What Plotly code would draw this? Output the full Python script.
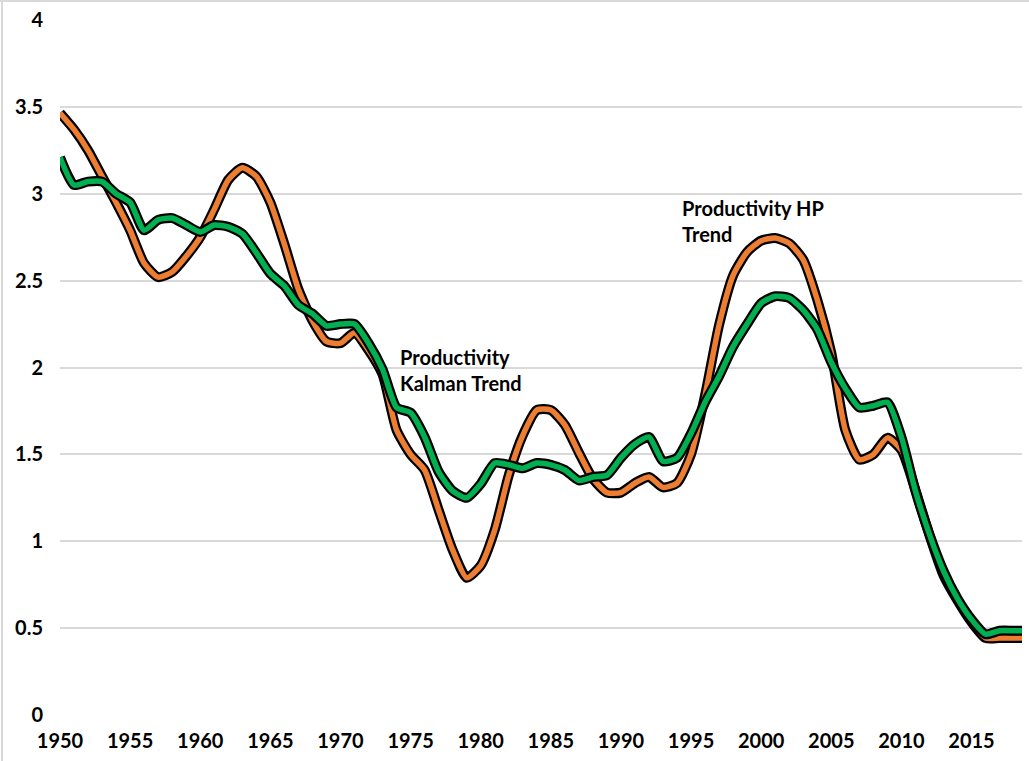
import plotly.graph_objects as go

years = list(range(1950, 2019)) + [2018.6]

hp_trend = [3.465, 3.37, 3.25, 3.10, 2.95, 2.79, 2.60, 2.52, 2.55, 2.64,
            2.75, 2.91, 3.08, 3.15, 3.10, 2.95, 2.71, 2.45, 2.27, 2.15,
            2.14, 2.20, 2.10, 1.96, 1.64, 1.50, 1.41, 1.18, 0.95, 0.79,
            0.86, 1.065, 1.38, 1.61, 1.755, 1.755, 1.67, 1.51, 1.36, 1.28,
            1.28, 1.335, 1.37, 1.31, 1.335, 1.50, 1.84, 2.245, 2.53, 2.665,
            2.73, 2.745, 2.715, 2.62, 2.39, 2.085, 1.64, 1.47, 1.50, 1.595,
            1.525, 1.295, 1.035, 0.805, 0.66, 0.535, 0.443, 0.443, 0.443, 0.443]

kalman_trend = [3.21, 3.05, 3.07, 3.07, 3.00, 2.95, 2.79, 2.85, 2.86, 2.82,
                2.78, 2.82, 2.81, 2.77, 2.66, 2.54, 2.47, 2.36, 2.31, 2.24,
                2.25, 2.25, 2.14, 1.99, 1.77, 1.74, 1.60, 1.40, 1.29, 1.25,
                1.33, 1.45, 1.44, 1.42, 1.45, 1.44, 1.41, 1.35, 1.37, 1.38,
                1.48, 1.56, 1.60, 1.46, 1.48, 1.62, 1.80, 1.95, 2.12, 2.25,
                2.37, 2.41, 2.40, 2.33, 2.22, 2.03, 1.88, 1.77, 1.78, 1.80,
                1.60, 1.29, 1.04, 0.83, 0.67, 0.55, 0.465, 0.485, 0.485, 0.485]

x_ticks = list(range(1950, 2016, 5))
y_ticks = [0, 0.5, 1, 1.5, 2, 2.5, 3, 3.5, 4]
y_tick_text = ["0", "0.5", "1", "1.5", "2", "2.5", "3", "3.5", "4"]

ORANGE = "#ED7D31"
GREEN = "#00B050"
FONT = "Lato"

fig = go.Figure()
for name, vals, col in [("Productivity HP Trend", hp_trend, ORANGE),
                        ("Productivity Kalman Trend", kalman_trend, GREEN)]:
    fig.add_trace(go.Scatter(x=years, y=vals, mode="lines",
                             line=dict(color="black", width=10, shape="spline", smoothing=0.6),
                             showlegend=False, hoverinfo="skip"))
    fig.add_trace(go.Scatter(x=years, y=vals, mode="lines", name=name,
                             line=dict(color=col, width=5.5, shape="spline", smoothing=0.6),
                             showlegend=False))

fig.add_annotation(x=1974.1, y=1.985, xref="x", yref="y", xanchor="left", yanchor="middle",
                   text="Productivity<br>Kalman Trend", showarrow=False, align="left",
                   font=dict(family=FONT, size=20, color="black", weight="bold"))
fig.add_annotation(x=1994.2, y=2.843, xref="x", yref="y", xanchor="left", yanchor="middle",
                   text="Productivity HP<br>Trend", showarrow=False, align="left",
                   font=dict(family=FONT, size=20, color="black", weight="bold"))

# outer chart border (top and left visible)
fig.add_shape(type="line", xref="paper", yref="paper", x0=-60/962, x1=1.1, y0=1 + 19/695, y1=1 + 19/695,
              line=dict(color="#D9D9D9", width=2))
fig.add_shape(type="line", xref="paper", yref="paper", x0=-58/962, x1=-58/962, y0=-0.1, y1=1 + 19/695,
              line=dict(color="#D9D9D9", width=2))

fig.update_layout(
    width=1029, height=761,
    margin=dict(l=60, r=7, t=20, b=46),
    paper_bgcolor="white", plot_bgcolor="white",
    font=dict(family=FONT, size=20, color="black"),
)
fig.update_xaxes(range=[1950, 2018.6], tickvals=x_ticks, ticktext=[str(v) for v in x_ticks],
                 showgrid=False, zeroline=False, showline=False, ticks="",
                 tickfont=dict(family=FONT, size=20, color="black", weight="bold"),
                 ticklabelstandoff=12)
fig.update_yaxes(range=[0, 4], tickvals=y_ticks, ticktext=y_tick_text,
                 showgrid=True, gridcolor="#D9D9D9", gridwidth=2, zeroline=False,
                 showline=False, ticks="",
                 tickfont=dict(family=FONT, size=20, color="black", weight="bold"),
                 ticklabelstandoff=16)

fig.write_html("out.html", config={"displayModeBar": False},
               post_script="document.body.style.margin='0';")
